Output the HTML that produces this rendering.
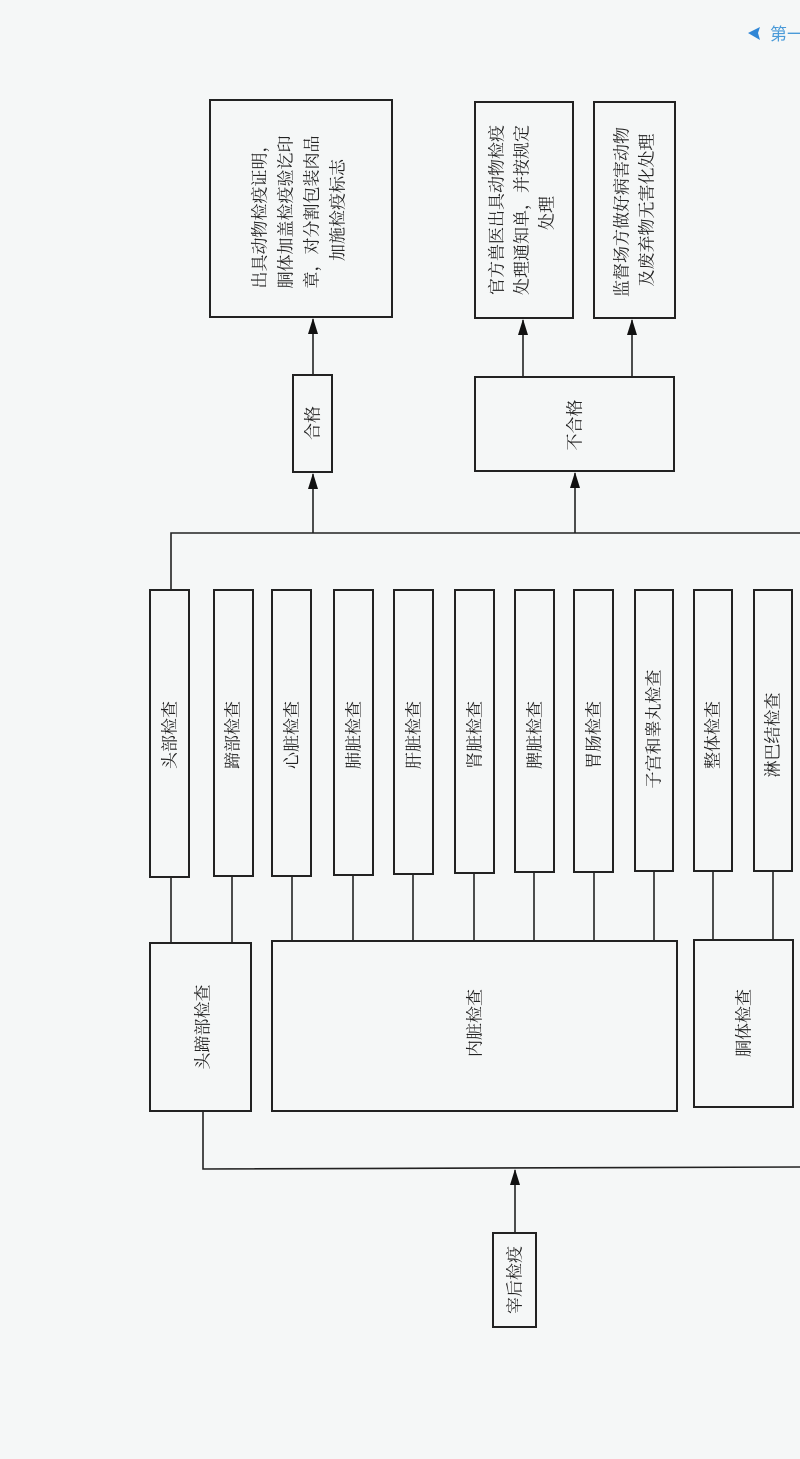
<!DOCTYPE html>
<html><head><meta charset="utf-8"><style>
html,body{margin:0;padding:0;background:#f5f7f7;}
svg{display:block;}
text{font-family:"Liberation Serif","Noto Serif CJK SC","Noto Sans CJK SC",serif;fill:#222;font-size:17px;}
</style></head><body>
<svg width="800" height="1459" viewBox="0 0 800 1459" xmlns="http://www.w3.org/2000/svg">
<defs><marker id="a" markerWidth="16" markerHeight="10" refX="15" refY="5" orient="auto" markerUnits="userSpaceOnUse" viewBox="0 0 16 10"><path d="M0,0 L16,5 L0,10 Z" fill="#111"/></marker></defs>
<g fill="none" stroke="#222" stroke-width="2">
<rect x="210" y="100" width="182" height="217"/>
<rect x="475" y="102" width="98" height="216"/>
<rect x="594" y="102" width="81" height="216"/>
<rect x="293" y="375" width="39" height="97"/>
<rect x="475" y="377" width="199" height="94"/>
<rect x="150" y="590" width="39" height="287"/>
<rect x="214" y="590" width="39" height="286"/>
<rect x="272" y="590" width="39" height="286"/>
<rect x="334" y="590" width="39" height="285"/>
<rect x="394" y="590" width="39" height="284"/>
<rect x="455" y="590" width="39" height="283"/>
<rect x="515" y="590" width="39" height="282"/>
<rect x="574" y="590" width="39" height="282"/>
<rect x="635" y="590" width="38" height="281"/>
<rect x="694" y="590" width="38" height="281"/>
<rect x="754" y="590" width="38" height="281"/>
<rect x="150" y="943" width="101" height="168"/>
<rect x="272" y="941" width="405" height="170"/>
<rect x="694" y="940" width="99" height="167"/>
<rect x="493" y="1233" width="43" height="94"/>
</g>
<g fill="none" stroke="#222" stroke-width="1.6">
<polyline points="171,590 171,533 800,533"/>
<line x1="313" y1="533" x2="313" y2="474" marker-end="url(#a)"/>
<line x1="313" y1="375" x2="313" y2="319" marker-end="url(#a)"/>
<line x1="575" y1="533" x2="575" y2="473" marker-end="url(#a)"/>
<line x1="523" y1="377" x2="523" y2="320" marker-end="url(#a)"/>
<line x1="632" y1="377" x2="632" y2="320" marker-end="url(#a)"/>
<line x1="171" y1="877" x2="171" y2="943"/>
<line x1="232" y1="876" x2="232" y2="943"/>
<line x1="292" y1="876" x2="292" y2="941"/>
<line x1="353" y1="875" x2="353" y2="941"/>
<line x1="413" y1="874" x2="413" y2="941"/>
<line x1="474" y1="873" x2="474" y2="941"/>
<line x1="534" y1="872" x2="534" y2="941"/>
<line x1="594" y1="872" x2="594" y2="941"/>
<line x1="654" y1="871" x2="654" y2="941"/>
<line x1="713" y1="871" x2="713" y2="940"/>
<line x1="773" y1="871" x2="773" y2="940"/>
<polyline points="203,1111 203,1169 800,1167"/>
<line x1="515" y1="1233" x2="515" y2="1170" marker-end="url(#a)"/>
</g>
<g text-anchor="middle" dominant-baseline="central">
<text transform="translate(260,212) rotate(-90)">出具动物检疫证明，</text>
<text transform="translate(286,212) rotate(-90)">胴体加盖检疫验讫印</text>
<text transform="translate(312,212) rotate(-90)">章，对分割包装肉品</text>
<text transform="translate(338,210) rotate(-90)">加施检疫标志</text>
<text transform="translate(497,210) rotate(-90)">官方兽医出具动物检疫</text>
<text transform="translate(522,210) rotate(-90)">处理通知单，并按规定</text>
<text transform="translate(547,213) rotate(-90)">处理</text>
<text transform="translate(622,212) rotate(-90)">监督场方做好病害动物</text>
<text transform="translate(647,210) rotate(-90)">及废弃物无害化处理</text>
<text transform="translate(313,423) rotate(-90)">合格</text>
<text transform="translate(575,425) rotate(-90)">不合格</text>
<text transform="translate(170,735) rotate(-90)">头部检查</text>
<text transform="translate(233,735) rotate(-90)">蹄部检查</text>
<text transform="translate(292,735) rotate(-90)">心脏检查</text>
<text transform="translate(354,735) rotate(-90)">肺脏检查</text>
<text transform="translate(414,735) rotate(-90)">肝脏检查</text>
<text transform="translate(475,735) rotate(-90)">肾脏检查</text>
<text transform="translate(535,735) rotate(-90)">脾脏检查</text>
<text transform="translate(594,735) rotate(-90)">胃肠检查</text>
<text transform="translate(654,729) rotate(-90)">子宫和睾丸检查</text>
<text transform="translate(713,735) rotate(-90)">整体检查</text>
<text transform="translate(773,735) rotate(-90)">淋巴结检查</text>
<text transform="translate(203,1027) rotate(-90)">头蹄部检查</text>
<text transform="translate(475,1023) rotate(-90)">内脏检查</text>
<text transform="translate(744,1023) rotate(-90)">胴体检查</text>
<text transform="translate(515,1280) rotate(-90)">宰后检疫</text>
</g>
<path d="M748,33 L760,27 L758,33 L760,40 Z" fill="#2f86d6"/>
<text x="770" y="40" style="fill:#4a9ad8;font-family:'Liberation Sans','Noto Sans CJK SC',sans-serif;font-size:17px;">第一</text>
</svg>
</body></html>
